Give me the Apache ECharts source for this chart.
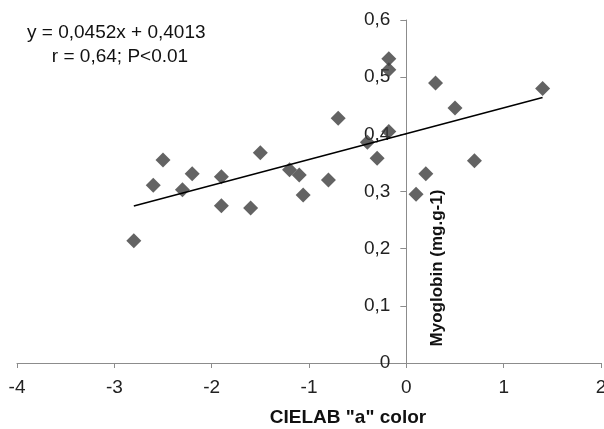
<!DOCTYPE html>
<html><head><meta charset="utf-8">
<script src="https://cdn.jsdelivr.net/npm/echarts@6/dist/echarts.min.js"></script>
<style>html,body{margin:0;padding:0;background:#fff}#c{width:604px;height:429px}</style>
</head><body><div id="c"></div>
<script>
var pointX = [-2.8,-2.6,-2.5,-2.3,-2.2,-1.9,-1.9,-1.6,-1.5,-1.2,-1.1,-1.06,-0.8,-0.7,-0.4,-0.3,-0.18,-0.18,-0.18,0.1,0.2,0.3,0.5,0.7,1.4];
var pointY = [0.214,0.311,0.355,0.303,0.331,0.326,0.275,0.271,0.368,0.338,0.329,0.294,0.320,0.428,0.386,0.358,0.532,0.513,0.405,0.295,0.331,0.490,0.446,0.354,0.480];
var trendX = [-2.8, 1.4];
var trendY = [0.2747, 0.4646];
var equationText = ['y = 0,0452x + 0,4013', 'r = 0,64; P<0.01'];
var xName = 'CIELAB "a" color';
var yName = 'Myoglobin (mg.g-1)';

var chart = echarts.init(document.getElementById('c'), null, {renderer:'canvas'});
var font = 'Liberation Sans, Arial, sans-serif';
var gridLeft = 17, gridWidth = 584, xMin = -4, xMax = 2;
var yOffset = -gridWidth * (0 - xMin) / (xMax - xMin);
chart.setOption({
  animation:false,
  grid:{left:gridLeft,width:gridWidth,top:20,bottom:66,containLabel:false,outerBoundsMode:'none'},
  xAxis:{type:'value',min:xMin,max:xMax,interval:1,
    axisLine:{onZero:true,lineStyle:{color:'#8c8c8c',width:1}},
    axisTick:{show:true,length:5,lineStyle:{color:'#8c8c8c'}},
    axisLabel:{margin:15,fontSize:19,color:'#222',fontFamily:font},
    splitLine:{show:false}},
  yAxis:{type:'value',min:0,max:0.6,interval:0.1,position:'left',offset:yOffset,
    axisLine:{show:true,onZero:false,lineStyle:{color:'#8c8c8c',width:1}},
    axisTick:{show:true,length:6,lineStyle:{color:'#8c8c8c'}},
    axisLabel:{margin:16,fontSize:19,color:'#222',fontFamily:font,
      formatter:function(v){return String(Math.round(v*10)/10).replace('.',',');}},
    splitLine:{show:false}},
  series:[
    {type:'line',data:trendX.map(function(x,i){return [x,trendY[i]];}),
      symbol:'none',lineStyle:{color:'#000',width:1.5},z:3},
    {type:'scatter',data:pointX.map(function(x,i){return [x,pointY[i]];}),
      symbol:'diamond',symbolSize:[15,15],itemStyle:{color:'#3c3c3c'},z:2}
  ],
  graphic:[
    {type:'text',x:27,y:33,style:{text:equationText[0],font:'19px '+font,fill:'#111',verticalAlign:'middle'}},
    {type:'text',x:120,y:57,style:{text:equationText[1],font:'19px '+font,fill:'#111',align:'center',verticalAlign:'middle'}},
    {type:'text',x:348,y:418,style:{text:xName,font:'bold 19px '+font,fill:'#111',align:'center',verticalAlign:'middle'}},
    {type:'text',x:437,y:268,rotation:Math.PI/2,style:{text:yName,font:'bold 17px '+font,fill:'#111',align:'center',verticalAlign:'middle'}}
  ]
});
</script></body></html>
